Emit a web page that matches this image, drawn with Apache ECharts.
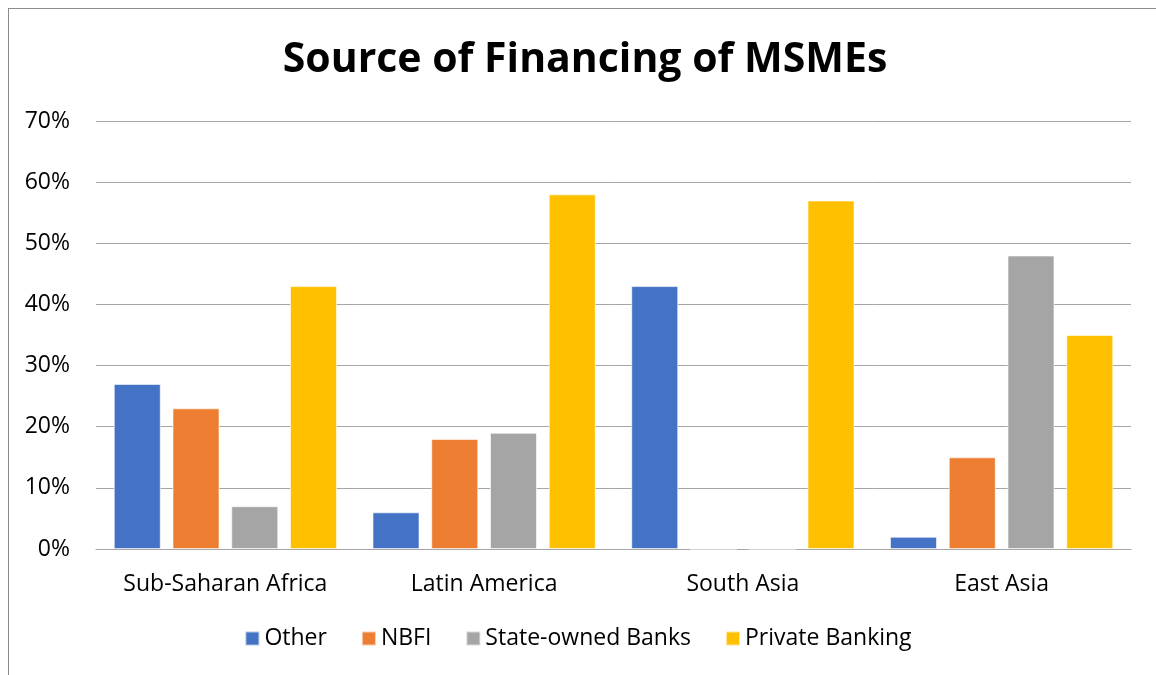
<!DOCTYPE html>
<html>
<head>
<meta charset="utf-8">
<script src="https://cdn.jsdelivr.net/npm/echarts@6/dist/echarts.min.js"></script>
<style>
  html, body { margin: 0; padding: 0; background: #fff; overflow: hidden; }
  #frame {
    position: absolute; left: 8px; top: 8px; width: 1160px; height: 680px;
    border-left: 1px solid #8c8c8c; border-top: 1px solid #8c8c8c;
  }
  #chart { position: absolute; left: 0; top: 0; width: 1156px; height: 675px; }
</style>
</head>
<body>
<div id="frame"></div>
<div id="chart"></div>
<script>
// 分类与数据（百分比）
const regions = ['Sub-Saharan Africa', 'Latin America', 'South Asia', 'East Asia'];
const otherData = [27, 6, 43, 2];
const nbfiData = [23, 18, 0, 15];
const stateData = [7, 19, 0, 48];
const privateData = [43, 58, 57, 35];

const seriesNames = ['Other', 'NBFI', 'State-owned Banks', 'Private Banking'];
const seriesColors = ['#4472C4', '#ED7D31', '#A5A5A5', '#FFC000'];
const seriesValues = [otherData, nbfiData, stateData, privateData];

const fontFamily = '"Open Sans", sans-serif';
const textColor = '#000000';

const chart = echarts.init(document.getElementById('chart'));

const option = {
  backgroundColor: 'transparent',
  animation: false,
  title: {
    text: 'Source of Financing of MSMEs',
    left: 580,
    textAlign: 'center',
    top: 35,
    textStyle: {
      fontFamily: fontFamily,
      fontSize: 41,
      fontWeight: 'bold',
      color: textColor
    }
  },
  legend: {
    bottom: 20,
    left: 'center',
    itemWidth: 14,
    itemHeight: 14,
    itemGap: 34,
    icon: 'rect',
    textStyle: {
      fontFamily: fontFamily,
      fontSize: 23,
      color: textColor
    },
    data: seriesNames
  },
  grid: {
    left: 96,
    right: 25,
    top: 121,
    bottom: 126
  },
  xAxis: {
    type: 'category',
    data: regions,
    axisTick: { show: false },
    axisLine: { lineStyle: { color: '#a6a6a6', width: 1 } },
    axisLabel: {
      interval: 0,
      hideOverlap: false,
      color: textColor,
      fontFamily: fontFamily,
      fontSize: 23,
      margin: 24
    }
  },
  yAxis: {
    type: 'value',
    min: 0,
    max: 70,
    interval: 10,
    axisLine: { show: false },
    axisTick: { show: false },
    axisLabel: {
      color: textColor,
      fontFamily: fontFamily,
      fontSize: 23,
      margin: 26,
      formatter: '{value}%'
    },
    splitLine: { lineStyle: { color: '#a6a6a6', width: 1 } }
  },
  series: seriesNames.map((name, i) => ({
    name: name,
    type: 'bar',
    data: seriesValues[i],
    barWidth: 47,
    barGap: '25%',
    itemStyle: {
      color: seriesColors[i],
      borderColor: 'rgba(255,255,255,0.6)',
      borderWidth: 1
    }
  }))
};

chart.setOption(option);
</script>
</body>
</html>
